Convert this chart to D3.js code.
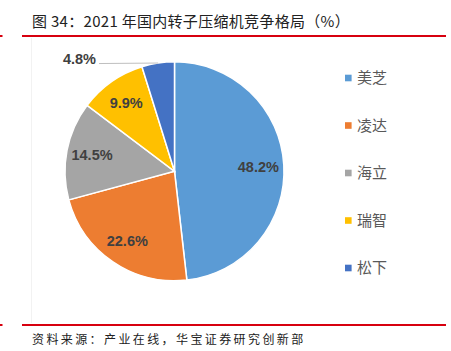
<!DOCTYPE html>
<html>
<head>
<meta charset="utf-8">
<script src="https://cdn.jsdelivr.net/npm/d3@7"></script>
<style>
  body { margin: 0; background: #fff; }
  svg { display: block; }
</style>
</head>
<body>
<div id="chart"></div>
<script>
const categories = ['美芝', '凌达', '海立', '瑞智', '松下'];
const shares = [48.2, 22.6, 14.5, 9.9, 4.8];
const colors = ['#5B9BD5', '#ED7D31', '#A5A5A5', '#FFC000', '#4472C4'];

const width = 451, height = 351;
const cjk = '"Noto Sans CJK SC", sans-serif';

const svg = d3.select('#chart').append('svg')
    .attr('width', width)
    .attr('height', height);

// header / footer rules
svg.append('rect').attr('x', 0).attr('y', 35).attr('width', 2.5).attr('height', 2).attr('fill', '#d7000f');
svg.append('rect').attr('x', 22).attr('y', 35).attr('width', 424).attr('height', 2).attr('fill', '#d7000f');
svg.append('rect').attr('x', 0).attr('y', 324).attr('width', 2.5).attr('height', 2).attr('fill', '#d7000f');
svg.append('rect').attr('x', 22).attr('y', 324).attr('width', 424).attr('height', 2).attr('fill', '#d7000f');
svg.append('line')
    .attr('x1', 31.5).attr('x2', 31.5).attr('y1', 38).attr('y2', 323)
    .attr('stroke', '#f2f2f2').attr('stroke-width', 1);

svg.append('text')
    .attr('x', 32).attr('y', 27)
    .style('font-family', cjk).style('font-size', '15px')
    .style('letter-spacing', '0.3px')
    .attr('fill', '#222')
    .text('图 34：2021 年国内转子压缩机竞争格局（%）');

svg.append('text')
    .attr('x', 32).attr('y', 344)
    .style('font-family', cjk).style('font-size', '12px')
    .style('letter-spacing', '2.4px')
    .attr('fill', '#222')
    .text('资料来源：产业在线，华宝证券研究创新部');

// pie
const cx = 174.5, cy = 171.3, radius = 109.5;
const data = categories.map((c, i) => ({name: c, value: shares[i], color: colors[i]}));

const pie = d3.pie().sort(null).value(d => d.value);
const arcs = pie(data);
const arc = d3.arc().innerRadius(0).outerRadius(radius);
const labelArc = d3.arc().innerRadius(84).outerRadius(84);

const g = svg.append('g').attr('transform', 'translate(' + cx + ',' + cy + ')');

g.selectAll('path.slice')
    .data(arcs)
    .enter()
    .append('path')
    .attr('class', 'slice')
    .attr('d', arc)
    .attr('fill', d => d.data.color)
    .attr('stroke', '#fff')
    .attr('stroke-width', 1.5);

const labelStyle = sel => sel
    .style('font-family', '"Liberation Sans", Arial, sans-serif')
    .style('font-size', '14.5px')
    .style('font-weight', 'bold')
    .attr('fill', '#404040');

// inside labels for all but the smallest slice
const inside = arcs.filter(d => d.data.value >= 5);
g.selectAll('text.lbl')
    .data(inside)
    .enter()
    .append('text')
    .attr('class', 'lbl')
    .attr('transform', d => 'translate(' + labelArc.centroid(d) + ')')
    .attr('text-anchor', 'middle')
    .attr('dy', '0.35em')
    .call(labelStyle)
    .text(d => d.data.value.toFixed(1) + '%');

// outside label with leader line for small slice
const outside = arcs.filter(d => d.data.value < 5);
outside.forEach(d => {
    const mid = (d.startAngle + d.endAngle) / 2;
    const px = radius * Math.sin(mid), py = -radius * Math.cos(mid);
    const tx = -75.5, ty = py + 0.5;
    g.append('line')
        .attr('x1', px).attr('y1', py)
        .attr('x2', tx).attr('y2', ty)
        .attr('stroke', '#bfbfbf').attr('stroke-width', 1);
    g.append('text')
        .attr('x', tx - 3).attr('y', ty - 5)
        .attr('text-anchor', 'end')
        .attr('dy', '0.35em')
        .call(labelStyle)
        .text(d.data.value.toFixed(1) + '%');
});

// legend
const legend = svg.append('g').attr('transform', 'translate(345,78)');
const rows = legend.selectAll('g.item')
    .data(data)
    .enter()
    .append('g')
    .attr('class', 'item')
    .attr('transform', (d, i) => 'translate(0,' + (i * 47.5) + ')');
rows.append('rect')
    .attr('x', 0).attr('y', -3.3)
    .attr('width', 6.6).attr('height', 6.6)
    .attr('fill', d => d.color);
rows.append('text')
    .attr('x', 12).attr('dy', '0.36em')
    .style('font-family', cjk).style('font-size', '15px')
    .attr('fill', '#595959')
    .text(d => d.name);
</script>
</body>
</html>
